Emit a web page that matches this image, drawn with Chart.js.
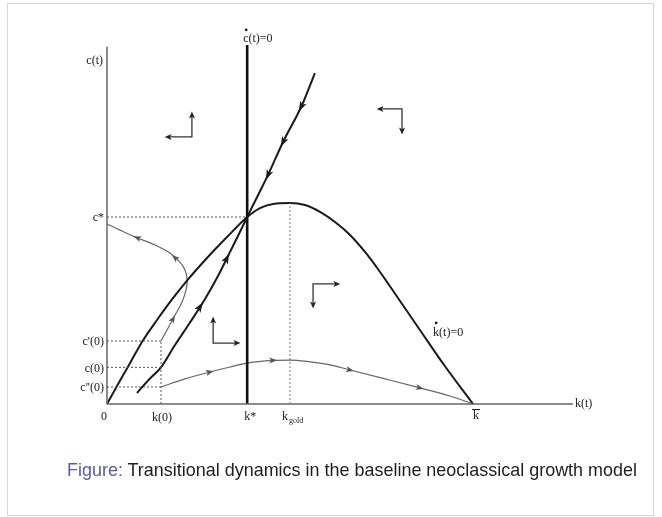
<!DOCTYPE html>
<html>
<head>
<meta charset="utf-8">
<script src="https://cdn.jsdelivr.net/npm/chart.js@4/dist/chart.umd.min.js"></script>
<style>
    html, body { margin: 0; padding: 0; background: #fff; }
    #wrap { position: relative; width: 662px; height: 517px; overflow: hidden; }
    #frame { position: absolute; left: 7px; top: 3px; width: 645px; height: 511px; border: 1px solid #d6d6d6; }
    #chart { position: absolute; left: 0; top: 0; }
    #caption { position: absolute; left: 67px; top: 459px; font: 19px "Liberation Sans", sans-serif; line-height: 22px;
               color: #1e1e1e; white-space: nowrap; transform-origin: 0 50%; }
    #caption span { color: #5a5aa6; }
</style>
</head>
<body>
<div id="wrap">
    <div id="frame"></div>
    <canvas id="chart" width="662" height="517"></canvas>
    <div id="caption"><span>Figure:</span> Transitional dynamics in the baseline neoclassical growth model</div>
</div>
<script>
// ── Key values (k on x, c on y) ──────────────────────────────
const kStar = 38.3, cStar = 100;
const kGold = 50, cGold = 107.5;
const kBar = 100;
const k0 = 14.75;
const c0Prime = 33.7, c0 = 19.6, c0DoublePrime = 9.1;
const kAxisEnd = 127.3, cAxisEnd = 191, cDotTop = 192;

// ── Curves: [k, c] ──────────────────────────────────────────
const kDotZero = [
    [0, 0], [2.73, 9.6], [5.46, 19.0], [9.56, 33.2], [13.66, 44.9], [17.76, 55.9],
    [21.86, 66.0], [27.32, 78.1], [32.79, 89.3], [38.3, 100], [41.8, 104.8], [45.4, 107.0], [50, 107.5],
    [54.1, 106.4], [58.2, 102.7], [62.3, 97.3], [66.4, 90.4], [70.5, 81.3], [74.6, 70.6],
    [79.5, 56.7], [85.5, 39.6], [92.3, 20.3], [100, 0]
];
const stableArm = [
    [8.2, 5.9], [11.48, 13.1], [14.75, 19.6], [18.58, 31.55], [22.68, 43.58], [26.78, 56.15],
    [30.33, 68.45], [33.33, 80.21], [35.79, 89.84], [38.3, 100], [41.3, 111.8], [44.0, 122.5],
    [48.1, 140.1], [53.3, 159.9], [56.8, 177.0]
];
const pathFromHigh = [
    [14.75, 33.7], [16.7, 40.6], [18.6, 47.6], [20.5, 54.5], [21.6, 61.0], [21.9, 66.3],
    [21.3, 71.7], [19.9, 75.9], [17.2, 80.7], [13.1, 85.0], [7.7, 89.3], [3.55, 93.0], [0, 96.3]
];
const pathFromLow = [
    [14.75, 9.1], [21.3, 13.4], [28.1, 17.1], [33.6, 19.8], [38.3, 21.9], [45.4, 23.3],
    [50, 23.5], [55.5, 22.5], [60.9, 20.9], [66.4, 18.2], [76.0, 13.4], [85.5, 8.6],
    [93.7, 4.3], [100, 0]
];

// phase arrows: [end A, corner, end B]
const phaseArrows = [
    [[23.2, 154.5], [23.2, 142.8], [16.7, 142.8]],
    [[74.6, 157.8], [80.6, 157.8], [80.6, 146.0]],
    [[29.0, 44.9], [29.0, 32.6], [35.5, 32.6]],
    [[62.8, 64.2], [56.3, 64.2], [56.3, 52.9]]
];

// ── Tick labels ──────────────────────────────────────────────
const kTickValues = [0, k0, kStar, kGold, kBar];
const kTickLabels = ['0', 'k(0)', 'k*', 'k', 'k'];
const cTickValues = [cStar, c0Prime, c0, c0DoublePrime];
const cTickLabels = ['c*', "c'(0)", 'c(0)', "c''(0)"];

// ── Helpers ──────────────────────────────────────────────────
function line(points, color, width, dash, smooth) {
    const ds = {
        data: points.map(([x, y]) => ({ x, y })),
        showLine: true,
        pointRadius: 0,
        borderColor: color,
        borderWidth: width,
        borderDash: dash || [],
        tension: 0,
        fill: false,
        clip: false,
    };
    if (smooth === 'mono') ds.cubicInterpolationMode = 'monotone';
    else if (smooth) ds.tension = smooth;
    return ds;
}

function head(ctx, x, y, ang, len, hw, color) {
    ctx.save();
    ctx.translate(x, y);
    ctx.rotate(ang);
    ctx.fillStyle = color;
    ctx.beginPath();
    ctx.moveTo(len / 2, 0);
    ctx.lineTo(-len / 2, -hw);
    ctx.lineTo(-len / 4, 0);
    ctx.lineTo(-len / 2, hw);
    ctx.closePath();
    ctx.fill();
    ctx.restore();
}

// arrows along curves: which curve, segment index, fraction, direction
const curveArrows = [
    { pts: stableArm, i: 4, t: 0.67, dir: 1, big: true },
    { pts: stableArm, i: 6, t: 0.8, dir: 1, big: true },
    { pts: stableArm, i: 11, t: 0, dir: -1, big: true },
    { pts: stableArm, i: 12, t: 0, dir: -1, big: true },
    { pts: stableArm, i: 12, t: 0.95, dir: -1, big: true },
    { pts: pathFromHigh, i: 1, t: 0.7, dir: 1 },
    { pts: pathFromHigh, i: 7, t: 0.5, dir: 1 },
    { pts: pathFromHigh, i: 9, t: 0.9, dir: 1 },
    { pts: pathFromLow, i: 2, t: 0, dir: 1 },
    { pts: pathFromLow, i: 5, t: 0, dir: 1 },
    { pts: pathFromLow, i: 9, t: 0, dir: 1 },
    { pts: pathFromLow, i: 11, t: 0, dir: 1 },
];

const overlay = {
    id: 'overlay',
    afterDatasetsDraw(chart) {
        const { ctx, scales: { x, y } } = chart;
        const px = v => x.getPixelForValue(v);
        const py = v => y.getPixelForValue(v);

        // arrowheads on trajectories
        curveArrows.forEach(a => {
            const p0 = a.pts[a.i], p1 = a.pts[a.i + 1];
            const x0 = px(p0[0]), y0 = py(p0[1]), x1 = px(p1[0]), y1 = py(p1[1]);
            const ang = Math.atan2(y1 - y0, x1 - x0) + (a.dir < 0 ? Math.PI : 0);
            const hx = x0 + (x1 - x0) * a.t, hy = y0 + (y1 - y0) * a.t;
            if (a.big) head(ctx, hx, hy, ang, 10, 3.6, '#1a1a1a');
            else head(ctx, hx, hy, ang, 8, 3, '#555');
        });

        // arrowheads on phase arrows
        phaseArrows.forEach(([a, c, b]) => {
            [a, b].forEach(e => {
                const ang = Math.atan2(py(e[1]) - py(c[1]), px(e[0]) - px(c[0]));
                head(ctx, px(e[0]), py(e[1]), ang, 7, 3, '#222');
            });
        });

        ctx.save();
        ctx.fillStyle = '#222';
        ctx.font = '12px "Liberation Serif", serif';
        ctx.textBaseline = 'middle';

        // k ticks
        ctx.textAlign = 'center';
        const tickY = py(0) + 13;
        kTickValues.forEach((v, i) => {
            const lx = px(v);
            if (v === kGold) {
                ctx.textAlign = 'left';
                ctx.fillText(kTickLabels[i], lx - 8, tickY);
                ctx.font = '8px "Liberation Serif", serif';
                ctx.fillText('gold', lx - 1, tickY + 4);
                ctx.font = '12px "Liberation Serif", serif';
                ctx.textAlign = 'center';
            } else if (v === kBar) {
                ctx.fillText(kTickLabels[i], lx + 3, tickY - 1);
                ctx.fillRect(lx - 1, tickY - 8, 8, 1);
            } else if (v === 0) {
                ctx.fillText(kTickLabels[i], lx - 3, tickY);
            } else if (v === kStar) {
                ctx.fillText(kTickLabels[i], lx + 3, tickY);
            } else {
                ctx.fillText(kTickLabels[i], lx + 1, tickY + 1);
            }
        });

        // c ticks
        ctx.textAlign = 'right';
        cTickValues.forEach((v, i) => {
            ctx.fillText(cTickLabels[i], px(0) - 3, py(v) + 1);
        });

        // axis titles
        ctx.fillText('c(t)', px(0) - 4, py(cAxisEnd) + 14);
        ctx.textAlign = 'left';
        ctx.fillText('k(t)', px(kAxisEnd) + 2, py(0));

        // locus labels with a dot over the first letter
        const l1x = px(kStar) - 4, l1y = py(cDotTop) - 6;
        ctx.fillText('c(t)=0', l1x, l1y);
        ctx.beginPath(); ctx.arc(l1x + 3, l1y - 9, 1.4, 0, Math.PI * 2); ctx.fill();
        const l2x = px(89.1), l2y = py(38);
        ctx.fillText('k(t)=0', l2x, l2y);
        ctx.beginPath(); ctx.arc(l2x + 3, l2y - 10, 1.4, 0, Math.PI * 2); ctx.fill();
        ctx.restore();
    }
};

// ── Build chart ──────────────────────────────────────────────
const dots = [2, 2];
const datasets = [
    // guides
    line([[0, cStar], [kStar, cStar]], '#555', 1, dots),
    line([[k0, 0], [k0, c0Prime]], '#555', 1, dots),
    line([[0, c0Prime], [k0, c0Prime]], '#555', 1, dots),
    line([[0, c0], [k0, c0]], '#555', 1, dots),
    line([[0, c0DoublePrime], [k0, c0DoublePrime]], '#555', 1, dots),
    line([[kGold, 0], [kGold, cGold]], '#777', 1, dots),
    // axes
    line([[0, 0], [kAxisEnd, 0]], '#666', 1.5),
    line([[0, 0], [0, cAxisEnd]], '#666', 1.5),
    // loci
    line([[kStar, 0], [kStar, cDotTop]], '#111', 2.6),
    line(kDotZero, '#1a1a1a', 2, null, 'mono'),
    line(stableArm, '#1a1a1a', 2, null, 'mono'),
    // off-path trajectories
    line(pathFromHigh, '#666', 1.2, null, 0.35),
    line(pathFromLow, '#666', 1.2, null, 'mono'),
    // phase arrows
    ...phaseArrows.map(p => line(p, '#333', 1.3)),
];

new Chart(document.getElementById('chart'), {
    type: 'scatter',
    data: { datasets },
    options: {
        responsive: false,
        animation: false,
        layout: { padding: { left: 107, right: 6, top: 30, bottom: 113 } },
        plugins: { legend: { display: false }, tooltip: { enabled: false } },
        scales: {
            x: { type: 'linear', min: 0, max: 150, display: false },
            y: { type: 'linear', min: 0, max: 200, display: false },
        },
    },
    plugins: [overlay],
});

// ── Caption width fit ────────────────────────────────────────
const cap = document.getElementById('caption');
const capW = cap.getBoundingClientRect().width;
if (capW > 0) cap.style.transform = `scaleX(${570 / capW})`;
</script>
</body>
</html>
